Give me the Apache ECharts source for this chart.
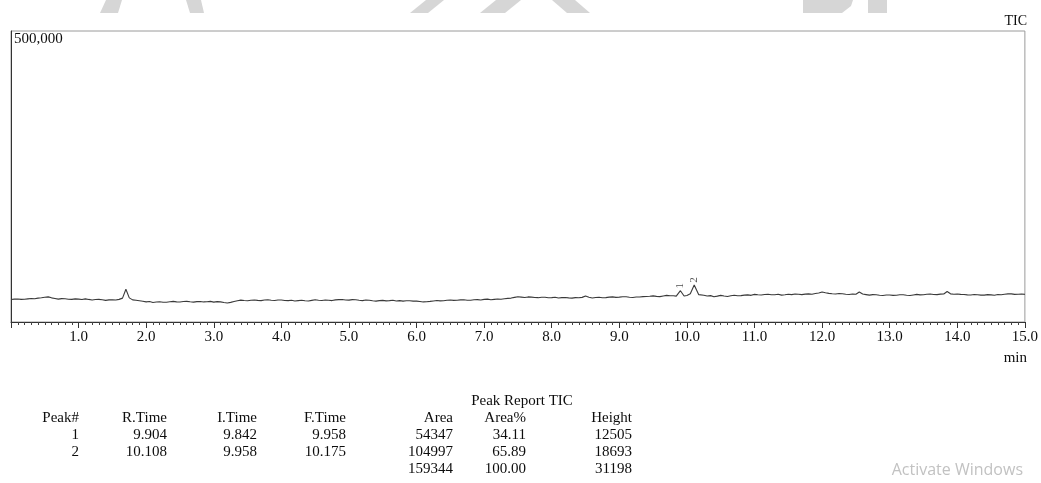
<!DOCTYPE html>
<html>
<head>
<meta charset="utf-8">
<script src="https://cdn.jsdelivr.net/npm/echarts@6/dist/echarts.min.js"></script>
<style>
  html, body { margin: 0; padding: 0; background: #ffffff; }
  #chart { width: 1041px; height: 483px; }
</style>
</head>
<body>
<div id="chart"></div>
<script>
// ---- Chromatogram data (time in min, TIC intensity in counts) ----
const times = [
  0.0, 0.05, 0.1, 0.15, 0.2, 0.25, 0.3, 0.35, 0.4, 0.45,
  0.5, 0.55, 0.6, 0.65, 0.7, 0.75, 0.8, 0.85, 0.9, 0.95,
  1.0, 1.05, 1.1, 1.15, 1.2, 1.25, 1.3, 1.35, 1.4, 1.45,
  1.5, 1.55, 1.6, 1.65, 1.7, 1.75, 1.8, 1.85, 1.9, 1.95,
  2.0, 2.05, 2.1, 2.15, 2.2, 2.25, 2.3, 2.35, 2.4, 2.45,
  2.5, 2.55, 2.6, 2.65, 2.7, 2.75, 2.8, 2.85, 2.9, 2.95,
  3.0, 3.05, 3.1, 3.15, 3.2, 3.25, 3.3, 3.35, 3.4, 3.45,
  3.5, 3.55, 3.6, 3.65, 3.7, 3.75, 3.8, 3.85, 3.9, 3.95,
  4.0, 4.05, 4.1, 4.15, 4.2, 4.25, 4.3, 4.35, 4.4, 4.45,
  4.5, 4.55, 4.6, 4.65, 4.7, 4.75, 4.8, 4.85, 4.9, 4.95,
  5.0, 5.05, 5.1, 5.15, 5.2, 5.25, 5.3, 5.35, 5.4, 5.45,
  5.5, 5.55, 5.6, 5.65, 5.7, 5.75, 5.8, 5.85, 5.9, 5.95,
  6.0, 6.05, 6.1, 6.15, 6.2, 6.25, 6.3, 6.35, 6.4, 6.45,
  6.5, 6.55, 6.6, 6.65, 6.7, 6.75, 6.8, 6.85, 6.9, 6.95,
  7.0, 7.05, 7.1, 7.15, 7.2, 7.25, 7.3, 7.35, 7.4, 7.45,
  7.5, 7.55, 7.6, 7.65, 7.7, 7.75, 7.8, 7.85, 7.9, 7.95,
  8.0, 8.05, 8.1, 8.15, 8.2, 8.25, 8.3, 8.35, 8.4, 8.45,
  8.5, 8.55, 8.6, 8.65, 8.7, 8.75, 8.8, 8.85, 8.9, 8.95,
  9.0, 9.05, 9.1, 9.15, 9.2, 9.25, 9.3, 9.35, 9.4, 9.45,
  9.5, 9.55, 9.6, 9.65, 9.7, 9.75, 9.8, 9.842, 9.904, 9.958,
  10.0, 10.05, 10.108, 10.175, 10.25, 10.3, 10.35, 10.4, 10.45,
  10.5, 10.55, 10.6, 10.65, 10.7, 10.75, 10.8, 10.85, 10.9, 10.95,
  11.0, 11.05, 11.1, 11.15, 11.2, 11.25, 11.3, 11.35, 11.4, 11.45,
  11.5, 11.55, 11.6, 11.65, 11.7, 11.75, 11.8, 11.85, 11.9, 11.95,
  12.0, 12.05, 12.1, 12.15, 12.2, 12.25, 12.3, 12.35, 12.4, 12.45,
  12.5, 12.55, 12.6, 12.65, 12.7, 12.75, 12.8, 12.85, 12.9, 12.95,
  13.0, 13.05, 13.1, 13.15, 13.2, 13.25, 13.3, 13.35, 13.4, 13.45,
  13.5, 13.55, 13.6, 13.65, 13.7, 13.75, 13.8, 13.85, 13.9, 13.95,
  14.0, 14.05, 14.1, 14.15, 14.2, 14.25, 14.3, 14.35, 14.4, 14.45,
  14.5, 14.55, 14.6, 14.65, 14.7, 14.75, 14.8, 14.85, 14.9, 14.95,
  15.0
];
const tic = [
  38700, 39300, 39600, 38900, 39100, 39800, 40300, 40000, 41000, 41600,
  42500, 43200, 41500, 40400, 39300, 40100, 39900, 39200, 38800, 39700,
  39300, 38600, 39800, 38800, 37900, 38600, 38900, 38100, 37200, 38000,
  38300, 37700, 38900, 41000, 56200, 41500, 38000, 37300, 36500, 35700,
  34600, 35100, 33600, 34300, 34800, 33900, 34000, 34900, 35400, 34600,
  34300, 35100, 35500, 34700, 34200, 35000, 35300, 34500, 34900, 35400,
  34200, 35000, 34600, 33500, 32600, 33700, 35200, 36500, 37600, 37000,
  36600, 37400, 37900, 37100, 36800, 37700, 38100, 37300, 37000, 37900,
  37800, 37000, 36700, 37400, 36200, 36800, 37300, 36500, 36000, 37100,
  38200, 37400, 36900, 37800, 37400, 36800, 38000, 38400, 38700, 37900,
  37600, 38500, 38200, 37400, 36800, 37700, 37500, 36600, 35900, 36700,
  37100, 36300, 36700, 37300, 36100, 36700, 35800, 36400, 36600, 35800,
  35900, 35300, 34500, 34900, 35400, 36200, 37000, 36300, 36500, 37300,
  37800, 37100, 37300, 38000, 38100, 37400, 37500, 38300, 38400, 37900,
  38800, 39300, 38100, 38900, 39400, 39000, 39900, 40600, 41100, 42300,
  43500, 42800, 42000, 43100, 42700, 42100, 41800, 42600, 42400, 41600,
  41900, 42600, 41300, 41900, 42200, 41500, 41000, 41900, 41700, 42300,
  44600, 42500, 41300, 42000, 42500, 41700, 41900, 42700, 43100, 42300,
  42700, 43300, 43400, 42600, 42100, 42900, 43000, 43600, 43700, 44200,
  44900, 44000, 43600, 44700, 45800, 45000, 45100, 44500, 53800, 44600,
  45500, 48500, 63600, 47000, 45900, 44600, 45300, 43300, 44500,
  45800, 44600, 43800, 45100, 46000, 45000, 45300, 46200, 46600, 45800,
  47500, 46800, 46300, 47300, 47600, 46700, 46900, 47700, 46200, 46900,
  47700, 47100, 48200, 47600, 47000, 47900, 48400, 47800, 49000, 49900,
  51700, 50300, 49200, 48500, 48000, 48900, 48500, 47700, 47200, 48100,
  47600, 51500, 48000, 47100, 46200, 47000, 46800, 46000, 45600, 46400,
  46500, 45700, 45900, 46800, 46700, 45900, 45600, 46500, 47400, 46600,
  46900, 47700, 48000, 47300, 47100, 47900, 48200, 52300, 48400, 47600,
  48100, 47500, 47300, 46600, 46500, 47200, 46900, 46100, 46200, 47000,
  46600, 46000, 47200, 46800, 47700, 48400, 48300, 47500, 47800, 48200,
  47400
];
const xMin = 0, xMax = 15, xStep = 1;
const yMax = 500000;

// ---- Peak report ----
const tableTitle = 'Peak Report TIC';
const tableHeaders = ['Peak#', 'R.Time', 'I.Time', 'F.Time', 'Area', 'Area%', 'Height'];
const peakNo = [1, 2];
const rTime = [9.904, 10.108];
const iTime = [9.842, 9.958];
const fTime = [9.958, 10.175];
const area = [54347, 104997];
const areaPct = [34.11, 65.89];
const height = [12505, 18693];
const totalArea = 159344;
const totalPct = 100.00;
const totalHeight = 31198;

// ---- layout (positions only) ----
const colRight = [79, 167, 257, 346, 453, 526, 632];
const rowY = [418, 435, 452, 469];
const serif = '"Liberation Serif", "Times New Roman", serif';
const tableFont = '15px ' + serif;
const ink = '#0d0d0d';

const graphic = [];
function txt(text, x, y, align, font, fill) {
  graphic.push({
    type: 'text', x: x, y: y, silent: true, z: 10,
    style: { text: String(text), x: 0, y: 0, align: align, verticalAlign: 'middle', font: font || tableFont, fill: fill || ink }
  });
}
// watermark fragments at top edge (decoration)
const wm = [
  [[106,0],[122,0],[118,13],[100,13]],
  [[186,0],[201,0],[204,13],[190,13]],
  [[426,0],[444,0],[428,13],[410,13]],
  [[496,0],[521,0],[505,13],[480,13]],
  [[552,0],[575,0],[590,13],[567,13]],
  [[803,0],[853,0],[851,6],[842,13],[803,13]],
  [[868,0],[887,0],[887,13],[868,13]]
];
wm.forEach(p => graphic.push({ type: 'polygon', silent: true, z: 0, shape: { points: p }, style: { fill: '#d6d6d6' } }));

txt('500,000', 14, 39, 'left', '15px ' + serif);
txt('TIC', 1027, 21, 'right', '14px ' + serif);
txt('min', 1027, 358, 'right', '15px ' + serif);

txt(tableTitle, 522, 401, 'center');
tableHeaders.forEach((h, c) => txt(h, colRight[c], rowY[0], 'right'));
for (let i = 0; i < peakNo.length; i++) {
  const row = [peakNo[i], rTime[i].toFixed(3), iTime[i].toFixed(3), fTime[i].toFixed(3), area[i], areaPct[i].toFixed(2), height[i]];
  row.forEach((v, c) => txt(v, colRight[c], rowY[i + 1], 'right'));
}
txt(totalArea, colRight[4], rowY[3], 'right');
txt(totalPct.toFixed(2), colRight[5], rowY[3], 'right');
txt(totalHeight, colRight[6], rowY[3], 'right');

txt('Activate Windows', 1023, 470, 'right', '16px "Open Sans", "Noto Sans", sans-serif', '#c2c2c2');

// peak apex points for labels
const peakPts = rTime.map((t, i) => {
  const idx = times.indexOf(t);
  return { value: [t, tic[idx]], name: String(peakNo[i]) };
});

const chart = echarts.init(document.getElementById('chart'), null, { renderer: 'canvas' });
chart.setOption({
  animation: false,
  backgroundColor: '#ffffff',
  grid: { left: 11, right: 15, top: 31, bottom: 161, show: true, borderColor: '#9a9a9a', borderWidth: 1, backgroundColor: 'transparent' },
  xAxis: {
    type: 'value', min: xMin, max: xMax, interval: xStep,
    axisLine: { show: true, onZero: false, lineStyle: { color: '#333', width: 1 } },
    axisTick: { show: true, length: 6, lineStyle: { color: '#333', width: 1 } },
    minorTick: { show: true, splitNumber: 10, length: 3, lineStyle: { color: '#444', width: 1 } },
    axisLabel: {
      show: true, margin: 8, color: ink, fontFamily: serif, fontSize: 15,
      formatter: v => (v === 0 ? '' : v.toFixed(1))
    },
    splitLine: { show: false }, minorSplitLine: { show: false }
  },
  yAxis: {
    type: 'value', min: 0, max: yMax,
    axisLine: { show: true, lineStyle: { color: '#333', width: 1 } },
    axisTick: { show: false }, axisLabel: { show: false }, splitLine: { show: false }
  },
  series: [
    {
      type: 'line', data: times.map((t, i) => [t, tic[i]]),
      showSymbol: false, symbol: 'none', smooth: false,
      lineStyle: { color: '#3a3a3a', width: 1.1 }, silent: true
    },
    {
      type: 'scatter', data: peakPts, symbolSize: 0, silent: true,
      label: {
        show: true, position: 'top', distance: 5, rotate: 90,
        align: 'center', verticalAlign: 'middle',
        formatter: p => p.name, fontFamily: serif, fontSize: 11, color: '#222'
      }
    }
  ],
  graphic: graphic
});
</script>
</body>
</html>
